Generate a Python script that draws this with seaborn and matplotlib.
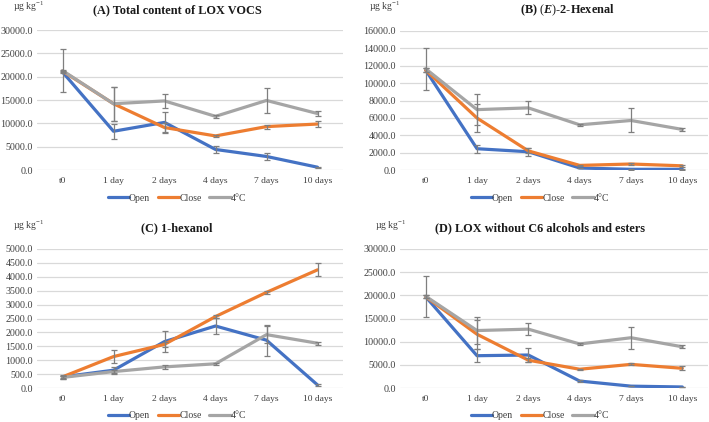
import matplotlib
matplotlib.use("Agg")
import matplotlib.pyplot as plt
import seaborn as sns
import pandas as pd

categories = ["t0", "1 day", "2 days", "4 days", "7 days", "10 days"]
series_names = ["Open", "Close", "4°C"]

# (A) Total content of LOX VOCS
A_open = [21000, 8300, 10200, 4400, 2900, 600]
A_open_err = [300, 1550, 2200, 750, 800, 100]
A_close = [21200, 14200, 9100, 7300, 9300, 9850]
A_close_err = [300, 3600, 900, 250, 450, 700]
A_cold = [21300, 14200, 14800, 11500, 14900, 12100]
A_cold_err = [4600, 3600, 1500, 250, 2700, 550]

# (B) (E)-2-Hexenal
B_open = [11500, 2450, 2100, 230, 80, 80]
B_open_err = [200, 450, 480, 50, 30, 30]
B_close = [11500, 5980, 2200, 530, 690, 480]
B_close_err = [200, 1600, 300, 80, 80, 80]
B_cold = [11650, 6950, 7150, 5200, 5700, 4670]
B_cold_err = [2400, 1800, 750, 100, 1380, 200]

# (C) 1-hexanol
C_open = [400, 640, 1670, 2230, 1720, 110]
C_open_err = [60, 130, 390, 290, 560, 40]
C_close = [400, 1130, 1570, 2570, 3440, 4250]
C_close_err = [40, 230, 100, 60, 60, 230]
C_cold = [380, 590, 760, 870, 1920, 1610]
C_cold_err = [40, 60, 70, 30, 300, 60]

# (D) LOX without C6 alcohols and esters
D_open = [19700, 6970, 7120, 1500, 400, 220]
D_open_err = [300, 1350, 1600, 300, 50, 50]
D_close = [19700, 11600, 6000, 4050, 5100, 4250]
D_close_err = [300, 3100, 400, 150, 200, 400]
D_cold = [19800, 12400, 12700, 9500, 10850, 8900]
D_cold_err = [4400, 3000, 1250, 150, 2350, 350]

titles = ["(A) Total content of LOX VOCS", "(B) $\\mathit{(E)}$-2-Hexenal",
          "(C) 1-hexanol", "(D) LOX without C6 alcohols and esters"]
unit_label = "µg kg$^{-1}$"
y_maxes = [30000, 16000, 5000, 30000]
y_steps = [5000, 2000, 500, 5000]

panels = [
    (A_open, A_open_err, A_close, A_close_err, A_cold, A_cold_err),
    (B_open, B_open_err, B_close, B_close_err, B_cold, B_cold_err),
    (C_open, C_open_err, C_close, C_close_err, C_cold, C_cold_err),
    (D_open, D_open_err, D_close, D_close_err, D_cold, D_cold_err),
]

colors = {"Open": "#4472C4", "Close": "#ED7D31", "4°C": "#A5A5A5"}

sns.set_theme(style="white")
plt.rcParams["font.family"] = ["Liberation Serif", "DejaVu Serif"]
plt.rcParams["mathtext.fontset"] = "custom"
plt.rcParams["mathtext.rm"] = "Liberation Serif"
plt.rcParams["mathtext.it"] = "Liberation Serif:italic:bold"
plt.rcParams["mathtext.bf"] = "Liberation Serif:bold"

W, H = 709, 422
fig = plt.figure(figsize=(W / 100, H / 100), dpi=100)

# axes boxes in pixels: (left, top, right, bottom)
boxes = [(37, 30, 343, 170), (400, 31, 708, 170), (37, 249, 343, 388), (400, 249, 708, 388)]
# title centre (x, y), unit label left/centre y, legend centre (x, y) in pixels
title_pos = [(177, 10), (567, 10), (177, 228), (540, 228)]
unit_pos = [(13, 7), (369, 7), (13, 226), (375, 226)]
legend_pos = [(177, 198), (540, 198), (177, 416), (540, 416)]

for i, (box, data) in enumerate(zip(boxes, panels)):
    l, t, r, b = box
    ax = fig.add_axes([l / W, 1 - b / H, (r - l) / W, (b - t) / H])
    o, oe, c, ce, k, ke = data
    rows = []
    for name, vals in zip(series_names, (o, c, k)):
        for cat, v in zip(categories, vals):
            rows.append({"day": cat, "value": v, "series": name})
    df = pd.DataFrame(rows)
    sns.lineplot(data=df, x="day", y="value", hue="series", palette=colors,
                 linewidth=2.3, ax=ax, sort=False, zorder=3)
    for vals, errs in ((o, oe), (c, ce), (k, ke)):
        ax.errorbar(categories, vals, yerr=errs, fmt="none", ecolor="#7f7f7f",
                    elinewidth=0.9, capsize=2, capthick=0.9, zorder=4)
    ax.set_xlim(-0.5, 5.5)
    ax.set_ylim(0, y_maxes[i])
    ticks = list(range(0, y_maxes[i] + 1, y_steps[i]))
    ax.set_yticks(ticks)
    ax.set_yticklabels([f"{v:.1f}" for v in ticks])
    ax.grid(axis="y", color="#d9d9d9", linewidth=0.9)
    ax.set_axisbelow(True)
    for s in ax.spines.values():
        s.set_visible(False)
    ax.tick_params(axis="both", length=0, colors="#404040")
    ax.tick_params(axis="y", labelsize=7.2, pad=3)
    ax.tick_params(axis="x", labelsize=6.8, pad=5)
    ax.set_xlabel("")
    ax.set_ylabel("")
    tx, ty = title_pos[i]
    fig.text(tx / W, 1 - ty / H, titles[i], fontsize=8.8, fontweight="bold",
             color="#1a1a1a", ha="center", va="center")
    ux, uy = unit_pos[i]
    fig.text(ux / W, 1 - uy / H, unit_label, fontsize=7, color="#404040",
             ha="left", va="center")
    lx, ly = legend_pos[i]
    handles, labels = ax.get_legend_handles_labels()
    ax.get_legend().remove()
    leg = fig.legend(handles, labels, loc="center", bbox_to_anchor=(lx / W, 1 - ly / H),
                     ncol=3, frameon=False, fontsize=7, handlelength=2.2,
                     handletextpad=0.0, columnspacing=0.8, borderpad=0)
    for txt in leg.get_texts():
        txt.set_color("#404040")

fig.savefig("out.png", dpi=100)
